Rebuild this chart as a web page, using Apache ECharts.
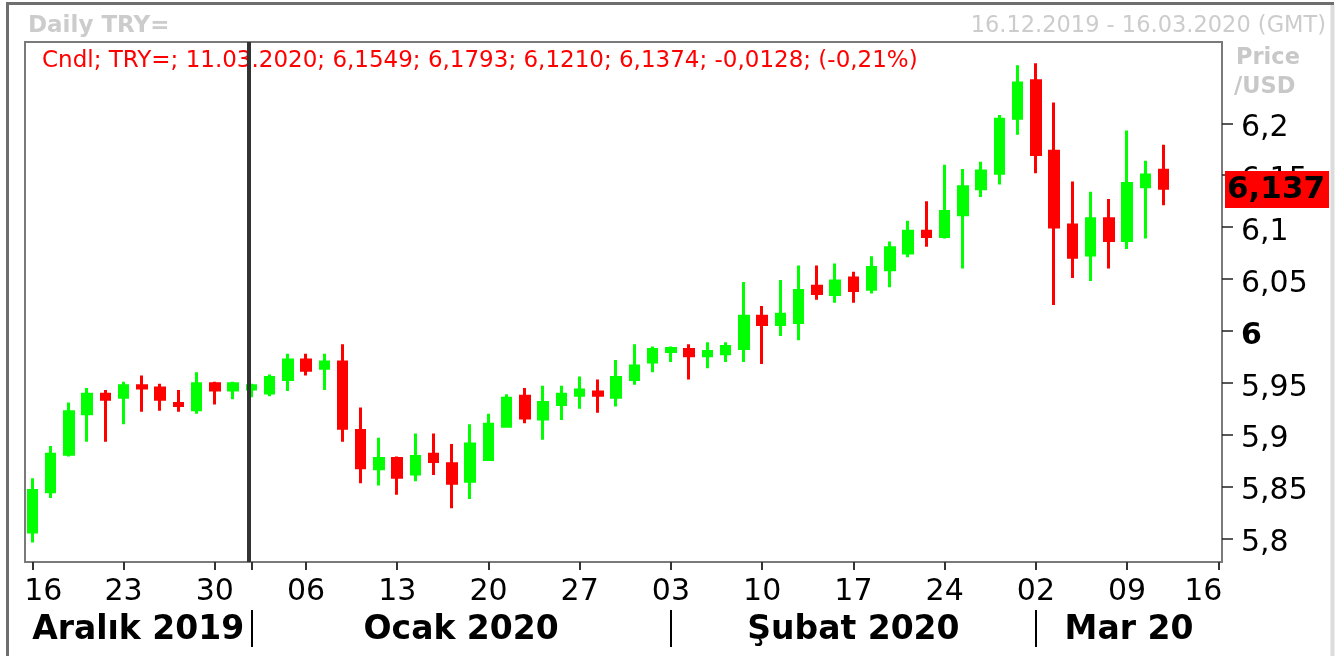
<!DOCTYPE html>
<html><head><meta charset="utf-8">
<script src="https://cdn.jsdelivr.net/npm/echarts@6/dist/echarts.min.js"></script>
<style>html,body{margin:0;padding:0;background:#fff;}#c{width:1339px;height:656px;}</style>
</head><body><div id="c"></div>
<script>
// ---------- data ----------
const dates = [
 '2019-12-16','2019-12-17','2019-12-18','2019-12-19','2019-12-20','2019-12-23','2019-12-24','2019-12-25','2019-12-26','2019-12-27','2019-12-30','2019-12-31',
 '2020-01-01','2020-01-02','2020-01-03','2020-01-06','2020-01-07','2020-01-08','2020-01-09','2020-01-10','2020-01-13','2020-01-14','2020-01-15','2020-01-16','2020-01-17',
 '2020-01-20','2020-01-21','2020-01-22','2020-01-23','2020-01-24','2020-01-27','2020-01-28','2020-01-29','2020-01-30','2020-01-31',
 '2020-02-03','2020-02-04','2020-02-05','2020-02-06','2020-02-07','2020-02-10','2020-02-11','2020-02-12','2020-02-13','2020-02-14',
 '2020-02-17','2020-02-18','2020-02-19','2020-02-20','2020-02-21','2020-02-24','2020-02-25','2020-02-26','2020-02-27','2020-02-28',
 '2020-03-02','2020-03-03','2020-03-04','2020-03-05','2020-03-06','2020-03-09','2020-03-10','2020-03-11'
];
const opens = [5.806,5.845,5.881,5.920,5.939,5.936,5.947,5.945,5.930,5.924,5.949,5.943,
 5.944,5.940,5.953,5.972,5.964,5.970,5.904,5.867,5.877,5.862,5.881,5.872,5.855,
 5.876,5.908,5.937,5.915,5.929,5.938,5.941,5.936,5.953,5.970,
 5.980,5.982,5.976,5.978,5.983,6.014,6.006,6.008,6.043,6.035,
 6.051,6.040,6.059,6.075,6.096,6.091,6.112,6.137,6.152,6.205,
 6.241,6.173,6.102,6.073,6.108,6.087,6.139,6.1549];
const closes = [5.846,5.881,5.922,5.939,5.934,5.947,5.945,5.934,5.928,5.949,5.943,5.949,
 5.947,5.955,5.972,5.962,5.970,5.906,5.868,5.877,5.859,5.879,5.874,5.853,5.891,
 5.910,5.935,5.916,5.931,5.939,5.943,5.938,5.955,5.966,5.982,
 5.983,5.976,5.980,5.985,6.014,6.006,6.016,6.039,6.036,6.048,
 6.039,6.061,6.080,6.096,6.091,6.115,6.139,6.154,6.204,6.239,
 6.170,6.100,6.071,6.108,6.087,6.142,6.1502,6.1374];
const lows = [5.796,5.839,5.879,5.893,5.893,5.910,5.922,5.923,5.922,5.920,5.929,5.934,
 5.936,5.937,5.942,5.957,5.943,5.893,5.853,5.851,5.842,5.855,5.861,5.829,5.838,
 5.875,5.907,5.911,5.895,5.914,5.925,5.921,5.927,5.948,5.960,
 5.970,5.953,5.964,5.970,5.970,5.968,5.995,5.991,6.030,6.027,
 6.027,6.036,6.042,6.071,6.081,6.089,6.060,6.129,6.141,6.189,
 6.152,6.025,6.051,6.048,6.060,6.079,6.089,6.1210];
const highs = [5.858,5.889,5.931,5.945,5.943,5.951,5.957,5.949,5.943,5.960,5.951,5.951,
 5.949,5.958,5.978,5.978,5.978,5.987,5.926,5.897,5.879,5.901,5.901,5.891,5.910,
 5.920,5.939,5.945,5.947,5.947,5.956,5.953,5.972,5.987,5.985,
 5.985,5.987,5.989,5.989,6.047,6.024,6.049,6.063,6.063,6.065,
 6.057,6.072,6.086,6.106,6.125,6.160,6.156,6.163,6.208,6.256,
 6.258,6.220,6.144,6.134,6.127,6.193,6.164,6.1793];
const axisEndDate = '2020-03-16';
const xTickLabels = ['16','23','30','06','13','20','27','03','10','17','24','02','09','16'];
const monthNames = ['Aralık 2019','Ocak 2020','Şubat 2020','Mar 20'];
const yTickValues = [5.8,5.85,5.9,5.95,6,6.05,6.1,6.15,6.2];

// ---------- layout ----------
const X_MIN = -0.4, X_MAX = 65.2, Y_MIN = 5.7772, Y_MAX = 6.2784;
const FONT = '"DejaVu Sans", Verdana, sans-serif';

function parseD(s){const [y,m,d]=s.split('-').map(Number);return Date.UTC(y,m-1,d);}
const cal=[];
for(let t=parseD(dates[0]);t<=parseD(axisEndDate);t+=86400000){
  const wd=new Date(t).getUTCDay();
  if(wd!==0&&wd!==6) cal.push(new Date(t).toISOString().slice(0,10));
}
const idxOf=s=>cal.indexOf(s);
const mondayIdx=[]; cal.forEach((s,i)=>{ if(new Date(parseD(s)).getUTCDay()===1) mondayIdx.push(i); });
const monthStartIdx=[]; cal.forEach((s,i)=>{ if(i>0 && s.slice(5,7)!==cal[i-1].slice(5,7)) monthStartIdx.push(i); });
const yearStartIdx=cal.findIndex(s=>s.startsWith('2020'));
const tickIdx=mondayIdx.concat([yearStartIdx]).sort((a,b)=>a-b);
const bounds=[X_MIN].concat(monthStartIdx,[X_MAX]);
const monthCenters=monthNames.map((n,k)=>(bounds[k]+bounds[k+1])/2);

const candleData=dates.map((d,i)=>[idxOf(d),opens[i],closes[i],lows[i],highs[i]]);

const n=dates.length-1;
const f4=v=>v.toFixed(4).replace('.',',');
const dmy=s=>s.slice(8,10)+'.'+s.slice(5,7)+'.'+s.slice(0,4);
const chg=closes[n]-closes[n-1];
const pct=chg/closes[n-1]*100;
const legendText='Cndl; TRY=; '+dmy(dates[n])+'; '+f4(opens[n])+'; '+f4(highs[n])+'; '+f4(lows[n])+'; '+f4(closes[n])+'; '+f4(chg)+'; ('+pct.toFixed(2).replace('.',',')+'%)';
const rangeText=dmy(dates[0])+' - '+dmy(axisEndDate)+' (GMT)';

const chart=echarts.init(document.getElementById('c'),null,{renderer:'canvas'});
const option={
  animation:false,
  backgroundColor:'#fff',
  grid:{left:25,right:117,top:42,bottom:94,show:true,borderColor:'#7a7a7a',borderWidth:2,backgroundColor:'#fff'},
  xAxis:[{
    type:'value',min:X_MIN,max:X_MAX,position:'bottom',
    axisLine:{show:false,onZero:false},splitLine:{show:false},
    axisTick:{show:true,customValues:tickIdx,length:8,lineStyle:{color:'#333',width:2}},
    axisLabel:{customValues:mondayIdx,margin:15,fontSize:30,color:'#000',fontFamily:FONT,
      formatter:v=>{const k=mondayIdx.indexOf(Math.round(v));const t=xTickLabels[k];
        if(k===0)return '{f|'+t+'}'; if(k===mondayIdx.length-1)return '{l|'+t+'}'; return t;},
      rich:{f:{padding:[0,0,0,22],fontSize:30,fontFamily:FONT,color:'#000'},
            l:{padding:[0,30,0,0],fontSize:30,fontFamily:FONT,color:'#000'}}}
  },{
    type:'value',min:X_MIN,max:X_MAX,position:'bottom',offset:48,
    axisLine:{show:false,onZero:false},splitLine:{show:false},
    axisTick:{show:true,customValues:monthStartIdx,length:37,lineStyle:{color:'#000',width:2}},
    axisLabel:{customValues:monthCenters,margin:4,fontSize:33,fontWeight:'bold',color:'#000',fontFamily:FONT,
      formatter:v=>{let k=0,b=1e9;monthCenters.forEach((c,i)=>{if(Math.abs(c-v)<b){b=Math.abs(c-v);k=i;}});return monthNames[k];}}
  }],
  yAxis:{
    type:'value',position:'right',min:Y_MIN,max:Y_MAX,scale:true,
    axisLine:{show:false,onZero:false},splitLine:{show:false},
    axisTick:{show:true,customValues:yTickValues,length:11,lineStyle:{color:'#222',width:1.5}},
    axisLabel:{customValues:yTickValues,margin:19,fontSize:30,color:'#000',fontFamily:FONT,padding:[10,0,0,0],
      formatter:v=>{const s=String(parseFloat(v.toFixed(2))).replace('.',',');return Math.abs(v-6)<1e-9?'{b|'+s+'}':s;},
      rich:{b:{fontWeight:'bold',fontSize:30,fontFamily:FONT,color:'#000'}}}
  },
  series:[{
    type:'candlestick',xAxisIndex:0,yAxisIndex:0,data:candleData,encode:{x:0,y:[1,2,3,4]},
    barWidth:9,
    itemStyle:{color:'#00ff00',color0:'#ff0000',borderColor:'#00ff00',borderColor0:'#ff0000',borderWidth:3},
    emphasis:{disabled:true},silent:true,
    markLine:{
      silent:true,symbol:['none','none'],animation:false,
      data:[
        {xAxis:yearStartIdx-0.14,lineStyle:{color:'#333',width:4,type:'solid'},label:{show:false}},
        {yAxis:closes[n],lineStyle:{color:'rgba(0,0,0,0)',width:1,type:'solid'},
          label:{show:true,position:'end',distance:3,offset:[0,4],formatter:closes[n].toFixed(3).replace('.',','),
            backgroundColor:'#ff0000',color:'#000',fontWeight:'bold',fontSize:31,fontFamily:FONT,padding:[4,4,2,2]}}
      ]
    }
  }],
  graphic:[
    {type:'line',shape:{x1:6,y1:3.5,x2:1334,y2:3.5},style:{stroke:'#6e6e6e',lineWidth:3}},
    {type:'line',shape:{x1:7.5,y1:2,x2:7.5,y2:656},style:{stroke:'#6e6e6e',lineWidth:3}},
    {type:'line',shape:{x1:1332.5,y1:5,x2:1332.5,y2:656},style:{stroke:'#dcdcdc',lineWidth:4}},
    {type:'text',x:28,y:26,style:{text:'Daily TRY=',font:'bold 23px '+FONT,fill:'#cccccc',align:'left',verticalAlign:'middle'}},
    {type:'text',x:1326,y:26,style:{text:rangeText,font:'22.5px '+FONT,fill:'#cccccc',align:'right',verticalAlign:'middle'}},
    {type:'text',x:1236,y:58,style:{text:'Price',font:'bold 22.5px '+FONT,fill:'#c8c8c8',align:'left',verticalAlign:'middle'}},
    {type:'text',x:1234,y:87,style:{text:'/USD',font:'bold 22.5px '+FONT,fill:'#c8c8c8',align:'left',verticalAlign:'middle'}},
    {type:'text',x:42,y:61,style:{text:legendText,font:'23px '+FONT,fill:'#ff0000',align:'left',verticalAlign:'middle'}}
  ]
};
chart.setOption(option);
</script></body></html>
